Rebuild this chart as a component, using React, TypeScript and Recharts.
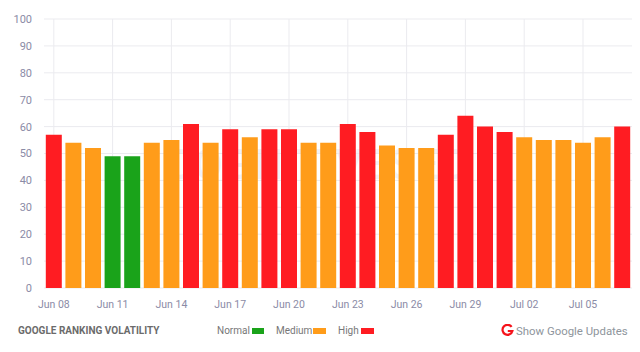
import React from 'react';
import { BarChart, Bar, Cell, XAxis, YAxis, CartesianGrid } from 'recharts';

const dates = ['Jun 08','Jun 09','Jun 10','Jun 11','Jun 12','Jun 13','Jun 14','Jun 15','Jun 16','Jun 17','Jun 18','Jun 19','Jun 20','Jun 21','Jun 22','Jun 23','Jun 24','Jun 25','Jun 26','Jun 27','Jun 28','Jun 29','Jun 30','Jul 01','Jul 02','Jul 03','Jul 04','Jul 05','Jul 06','Jul 07'];
const values = [57,54,52,49,49,54,55,61,54,59,56,59,59,54,54,61,58,53,52,52,57,64,60,58,56,55,55,54,56,60];
const yTicks = [0,10,20,30,40,50,60,70,80,90,100];
const GREEN = '#1aa31a';
const ORANGE = '#ff9c1a';
const RED = '#ff1c22';
const colorOf = (v: number) => (v < 50 ? GREEN : v < 57 ? ORANGE : RED);
const data = dates.map((date, i) => ({ date, value: values[i] }));
const legend = [
  { label: 'Normal', color: GREEN, left: 217, swatch: 252, w: 12 },
  { label: 'Medium', color: ORANGE, left: 276, swatch: 313, w: 13 },
  { label: 'High', color: RED, left: 338, swatch: 361, w: 13 },
];
const font = 'Roboto, sans-serif';

export default function App() {
  return (
    <div style={{ position: 'absolute', left: 0, top: 0, width: 640, height: 352, background: '#fff', fontFamily: font, overflow: 'hidden' }}>
      <div style={{ position: 'absolute', left: 165, top: 141, fontSize: 42, fontWeight: 500, color: '#f1f2f7', lineHeight: '48px', whiteSpace: 'nowrap', letterSpacing: 1 }}>COGNITIVESEO</div>
      <BarChart width={640} height={310} data={data} margin={{ top: 19, right: 8, bottom: 0, left: 0 }} barCategoryGap={1.8}>
        <CartesianGrid stroke="#ebebef" strokeWidth={1} syncWithTicks />
        <XAxis dataKey="date" interval={2} axisLine={false} tickLine={false} height={22} tickMargin={7}
          tick={{ fill: '#8b8ba6', fontSize: 10.5, fontFamily: font }} />
        <YAxis domain={[0, 100]} ticks={yTicks} width={44} interval={0} axisLine={false} tickLine={false} tickMargin={6}
          tick={{ fill: '#8b8ba6', fontSize: 11, fontFamily: font }} />
        <Bar dataKey="value" isAnimationActive={false}>
          {data.map((d) => <Cell key={d.date} fill={colorOf(d.value)} />)}
        </Bar>
      </BarChart>
      <div style={{ position: 'absolute', left: 18, top: 325, fontSize: 10, fontWeight: 700, color: '#6b6b6b', lineHeight: '12px' }}>GOOGLE RANKING VOLATILITY</div>
      {legend.map((l) => (
        <React.Fragment key={l.label}>
          <div style={{ position: 'absolute', left: l.left, top: 325, fontSize: 10, color: '#777', lineHeight: '12px' }}>{l.label}</div>
          <div style={{ position: 'absolute', left: l.swatch, top: 328, width: l.w, height: 6, background: l.color }} />
        </React.Fragment>
      ))}
      <svg style={{ position: 'absolute', left: 501, top: 324 }} width={13} height={13} viewBox="0 0 13 13">
        <path d="M10.6 2.9A5 5 0 1 0 11.4 7H6.8" fill="none" stroke="#f5131b" strokeWidth={2.2} />
      </svg>
      <div style={{ position: 'absolute', left: 516, top: 324, fontSize: 11.4, color: '#8e959c', lineHeight: '14px', whiteSpace: 'nowrap' }}>Show Google Updates</div>
    </div>
  );
}
